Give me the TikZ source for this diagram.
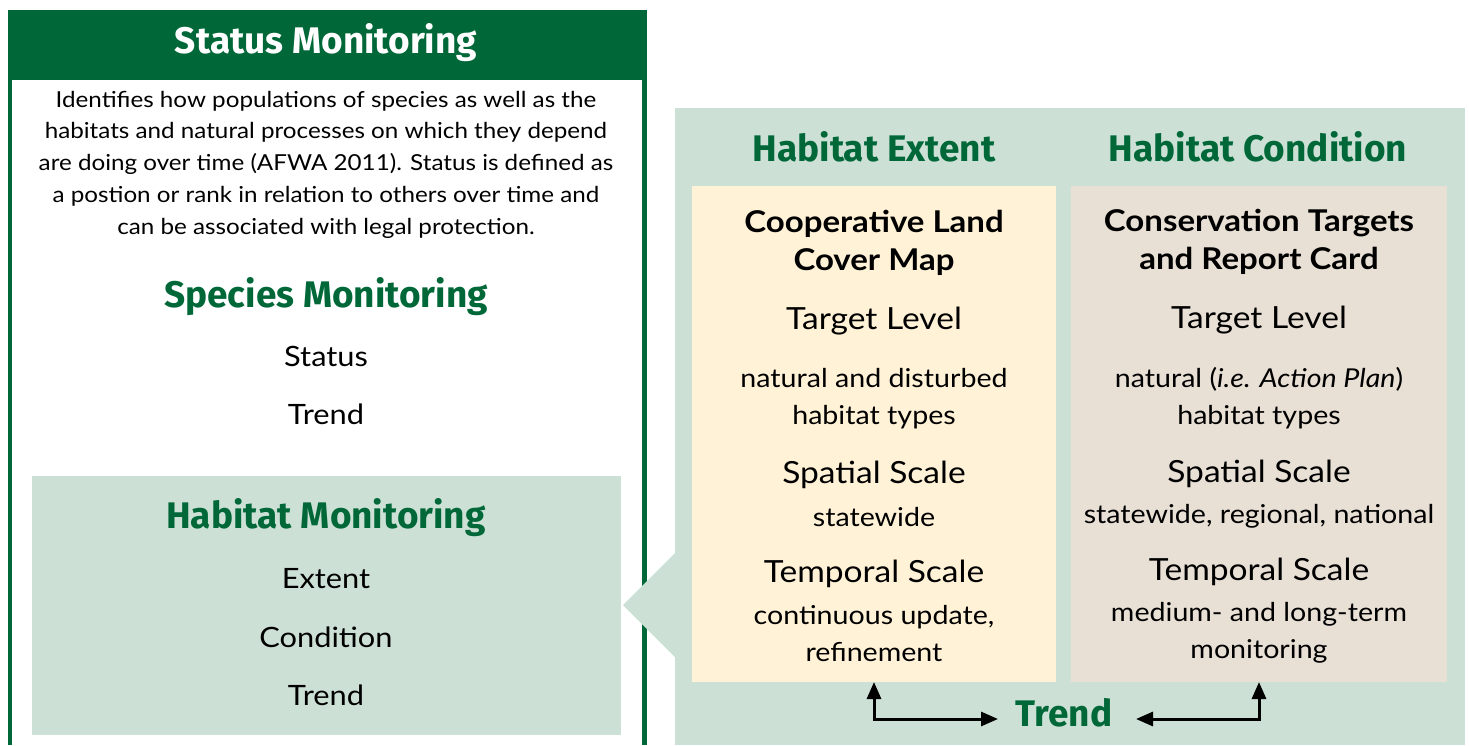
\documentclass[tikz,border=0pt]{standalone}
\usepackage{fontspec}
\setmainfont{Lato}[FakeStretch=1.1]
\newfontfamily\hd{Fira Sans}
\usetikzlibrary{arrows.meta}
\definecolor{dg}{HTML}{006838}
\definecolor{lg}{HTML}{CCE0D5}
\definecolor{ylw}{HTML}{FFF2D6}
\definecolor{bge}{HTML}{E8DFD5}
\begin{document}
\begin{tikzpicture}[x=1pt,y=-1pt,
  panel/.style={anchor=north west, inner sep=0, outer sep=0, draw=none},
  para/.style={align=center, inner sep=0, font=\fontsize{22}{31.7}\selectfont},
  item/.style={align=center, inner sep=0, font=\fontsize{28}{34}\selectfont},
  lbl/.style={align=center, inner sep=0, font=\fontsize{30.5}{36}\selectfont},
  val/.style={align=center, inner sep=0, font=\fontsize{26}{37}\selectfont},
  ttl/.style={align=center, inner sep=0, font=\bfseries\fontsize{30}{38.5}\selectfont},
  ghead/.style={inner sep=0, text=dg, font=\hd\bfseries\fontsize{37}{40}\selectfont},
  whead/.style={inner sep=0, text=white, font=\hd\bfseries\fontsize{37}{40}\selectfont},
  trendarrow/.style={line width=3pt, {Triangle[length=17pt,width=14pt]}-{Triangle[length=17pt,width=14pt]}},
]
\useasboundingbox (0,0) rectangle (1469,745);

% left column
\draw[dg, line width=4pt] (10,78) -- (10,745);
\draw[dg, line width=5pt] (644,78) -- (644,745);
\node[panel, fill=dg, minimum width=639pt, minimum height=70pt] (hdr) at (8,10) {};
\node[whead] (hdrt) at (326,43) {Status Monitoring};
\node[para] (desc) at (326,164.5) {Identifies how populations of species as well as the\\
habitats and natural processes on which they depend\\
are doing over time (AFWA 2011). Status is defined as\\
a postion or rank in relation to others over time and\\
can be associated with legal protection.};
\node[ghead] (spm) at (326,297) {Species Monitoring};
\node[item] (sps) at (326,356) {Status};
\node[item] (spt) at (326,414) {Trend};
\node[panel, fill=lg, minimum width=589pt, minimum height=259pt] (hab) at (32,476) {};
\node[ghead] (habt) at (326,518) {Habitat Monitoring};
\node[item] (habe) at (326,579) {Extent};
\node[item] (habc) at (326,637) {Condition};
\node[item] (habtr) at (326,695) {Trend};

% right panel
\node[panel, fill=lg, minimum width=790pt, minimum height=637pt] (rp) at (675,108) {};
\fill[lg] (rp.north west |- 0,553) -- (623,605) -- (rp.north west |- 0,657) -- cycle;
\node[ghead] (hext) at (874,147) {Habitat Extent};
\node[ghead] (hcond) at (1258,147) {Habitat Condition};
\node[panel, fill=ylw, minimum width=364pt, minimum height=496pt] (ext) at (692,186) {};
\node[panel, fill=bge, minimum width=376pt, minimum height=496pt] (cond) at (1071,186) {};

\node[ttl] (e1) at (874,243) {Cooperative Land\\Cover Map};
\node[lbl] (e2) at (874,321) {Target Level};
\node[val] (e3) at (874,398.5) {natural and disturbed\\habitat types};
\node[lbl] (e4) at (874,475) {Spatial Scale};
\node[val] (e5) at (874,517) {statewide};
\node[lbl] (e6) at (874,574) {Temporal Scale};
\node[val] (e7) at (874,634) {continuous update,\\refinement};

\node[ttl] (c1) at (1259,242) {Conservation Targets\\and Report Card};
\node[lbl] (c2) at (1259,320) {Target Level};
\node[val] (c3) at (1259,398) {natural (\textit{i.e. Action Plan})\\habitat types};
\node[lbl] (c4) at (1259,474) {Spatial Scale};
\node[val] (c5) at (1259,516) {statewide, regional, national};
\node[lbl] (c6) at (1259,572) {Temporal Scale};
\node[val] (c7) at (1259,633) {medium- and long-term\\monitoring};

\node[ghead, anchor=base] (trend) at (1064,726) {Trend};
\coordinate (tl) at (998,719);
\coordinate (tr) at (1136,719);
\draw[trendarrow] (ext.south) |- (tl);
\draw[trendarrow] (cond.south) |- (tr);
\end{tikzpicture}
\end{document}
